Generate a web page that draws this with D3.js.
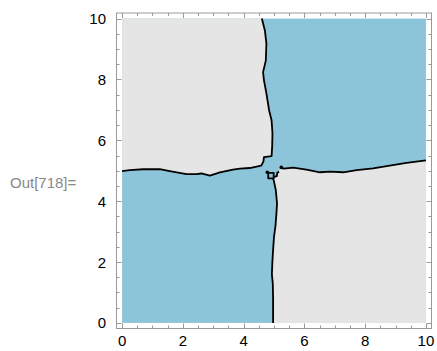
<!DOCTYPE html>
<html>
<head>
<meta charset="utf-8">
<script src="https://cdn.jsdelivr.net/npm/d3@7"></script>
<style>
  html, body { margin: 0; padding: 0; background: #fff; }
  svg { display: block; }
</style>
</head>
<body>
<svg id="chart" width="437" height="351"></svg>
<script>
// Region boundaries in data coordinates [x, y]
const upperLeftBoundary = [
  [4.60, 10], [4.70, 9.61], [4.75, 9.18], [4.73, 8.62], [4.64, 8.24], [4.67, 7.97],
  [4.75, 7.54], [4.84, 6.98], [4.92, 6.66], [4.95, 6.23], [4.94, 5.80], [4.92, 5.48],
  [4.67, 5.45], [4.65, 5.30], [4.58, 5.17], [4.20, 5.09], [3.88, 5.07], [3.65, 5.04],
  [3.22, 4.95], [2.89, 4.84], [2.61, 4.91], [2.45, 4.89], [2.12, 4.89], [1.57, 4.99],
  [1.24, 5.05], [0.69, 5.05], [0.25, 5.02], [0, 4.99]
];
const lowerBoundary = [
  [4.97, 0], [4.97, 0.80], [4.96, 1.30], [4.93, 1.60], [4.95, 2.07], [4.97, 2.39],
  [5.00, 2.83], [5.05, 3.20], [5.08, 3.60], [5.10, 3.92], [5.06, 4.36], [4.99, 4.69],
  [4.96, 4.75]
];
const rightBoundary = [
  [5.24, 5.10], [5.32, 5.07], [5.63, 5.10], [6.07, 5.04], [6.51, 4.95], [6.84, 4.97],
  [7.28, 4.95], [7.72, 5.02], [8.26, 5.08], [8.81, 5.17], [9.36, 5.26], [10, 5.34]
];
// Small closed loop and fragments near the centre
const centreLoop = [[4.81, 4.93], [4.99, 4.93], [4.99, 4.75], [4.81, 4.75], [4.81, 4.93]];
const centreHook = [[5.01, 4.80], [5.09, 4.82], [5.11, 4.94], [5.17, 4.96]];
const centreDots = [[4.78, 4.95], [5.24, 5.11]];
// Bridge that closes the lower-right region between its two boundary pieces
const lowerRightBridge = [[5.04, 4.76], [5.09, 4.84], [5.16, 4.98]];

const xTicks = [0, 2, 4, 6, 8, 10];
const yTicks = [0, 2, 4, 6, 8, 10];
const minorStep = 0.5;
const outLabel = "Out[718]=";

const svg = d3.select("#chart");

const x = d3.scaleLinear().domain([-0.2, 10.2]).range([116, 432]);
const y = d3.scaleLinear().domain([-0.2, 10.2]).range([329, 12.5]);

const blue = "#8cc5d9";
const grey = "#e5e5e5";
const frameColor = "#999";

const line = d3.line().x(d => x(d[0])).y(d => y(d[1]));

// Whole plotting square is filled with the "true" colour
svg.append("rect")
  .attr("x", x(0)).attr("y", y(10))
  .attr("width", x(10) - x(0)).attr("height", y(0) - y(10))
  .attr("fill", blue);

// Upper-left "false" region
const ulPoly = [[0, 10], ...upperLeftBoundary];
svg.append("path").attr("d", line(ulPoly) + "Z").attr("fill", grey);

// Lower-right "false" region
const lrPoly = [...lowerBoundary, ...lowerRightBridge, ...rightBoundary, [10, 0]];
svg.append("path").attr("d", line(lrPoly) + "Z").attr("fill", grey);

// Boundary strokes
const strokes = [upperLeftBoundary, lowerBoundary, rightBoundary, centreLoop, centreHook];
svg.append("g").selectAll("path").data(strokes).join("path")
  .attr("d", d => line(d))
  .attr("fill", "none")
  .attr("stroke", "#000")
  .attr("stroke-width", 1.8)
  .attr("stroke-linejoin", "round");
svg.append("g").selectAll("circle").data(centreDots).join("circle")
  .attr("cx", d => x(d[0])).attr("cy", d => y(d[1]))
  .attr("r", 1.8).attr("fill", "#000");

// Frame
svg.append("rect")
  .attr("x", x(-0.2) + 0.5).attr("y", y(10.2) + 0.5)
  .attr("width", x(10.2) - x(-0.2) - 1).attr("height", y(-0.2) - y(10.2) - 1)
  .attr("fill", "none").attr("stroke", frameColor).attr("stroke-width", 1);

// Ticks (pointing inwards on all four sides)
const minor = d3.range(0, 10 + 1e-9, minorStep).filter(v => Math.abs(v / 2 - Math.round(v / 2)) > 1e-6);
const tickG = svg.append("g").attr("stroke", frameColor).attr("stroke-width", 1);
const frameL = x(-0.2) + 0.5, frameR = x(10.2) - 0.5, frameT = y(10.2) + 0.5, frameB = y(-0.2) - 0.5;
function vTicks(vals, len) {
  vals.forEach(v => {
    const px = Math.round(x(v)) + 0.5;
    tickG.append("line").attr("x1", px).attr("x2", px).attr("y1", frameB).attr("y2", frameB - len);
    tickG.append("line").attr("x1", px).attr("x2", px).attr("y1", frameT).attr("y2", frameT + len);
  });
}
function hTicks(vals, len) {
  vals.forEach(v => {
    const py = Math.round(y(v)) + 0.5;
    tickG.append("line").attr("y1", py).attr("y2", py).attr("x1", frameL).attr("x2", frameL + len);
    tickG.append("line").attr("y1", py).attr("y2", py).attr("x1", frameR).attr("x2", frameR - len);
  });
}
vTicks(xTicks, 5); vTicks(minor, 3);
hTicks(yTicks, 5); hTicks(minor, 3);

// Tick labels
const font = "'Liberation Sans', Arial, sans-serif";
svg.append("g").selectAll("text").data(xTicks).join("text")
  .attr("x", d => x(d)).attr("y", 345.5)
  .attr("text-anchor", "middle")
  .attr("font-family", font).attr("font-size", 15).attr("fill", "#000")
  .text(d => d);
svg.append("g").selectAll("text").data(yTicks).join("text")
  .attr("x", 106).attr("y", d => y(d) + 5.5)
  .attr("text-anchor", "end")
  .attr("font-family", font).attr("font-size", 15).attr("fill", "#000")
  .text(d => d);

// Output cell label
svg.append("text")
  .attr("x", 10).attr("y", 188)
  .attr("font-family", font).attr("font-size", 15).attr("fill", "#888")
  .text(outLabel);
</script>
</body>
</html>
